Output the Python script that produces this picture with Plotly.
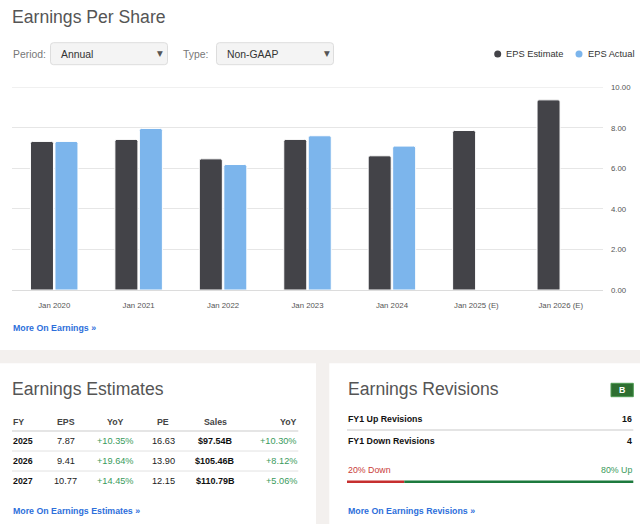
import plotly.graph_objects as go

# ---------------- data ----------------
categories = ["Jan 2020", "Jan 2021", "Jan 2022", "Jan 2023", "Jan 2024", "Jan 2025 (E)", "Jan 2026 (E)"]
eps_estimate = [7.33, 7.43, 6.47, 7.43, 6.62, 7.87, 9.38]
eps_actual = [7.33, 7.97, 6.19, 7.61, 7.10, None, None]
y_ticks = [0, 2, 4, 6, 8, 10]

table_header = ["FY", "EPS", "YoY", "PE", "Sales", "YoY"]
fy = ["2025", "2026", "2027"]
eps = ["7.87", "9.41", "10.77"]
eps_yoy = ["+10.35%", "+19.64%", "+14.45%"]
pe = ["16.63", "13.90", "12.15"]
sales = ["$97.54B", "$105.46B", "$110.79B"]
sales_yoy = ["+10.30%", "+8.12%", "+5.06%"]

up_revisions = 16
down_revisions = 4
revision_grade = "B"

# ---------------- helpers ----------------
W, H = 640, 524
FONT = "Liberation Sans, Arial, Helvetica, sans-serif"
C_EST = "#434348"
C_ACT = "#7cb5ec"
C_LINK = "#2d6fdb"
C_GREEN = "#3a9a5c"
C_RED = "#c9403a"
C_GRAY_BG = "#f3f0ee"
C_GRID = "#e6e6e6"


def px(x):
    return x / W


def py(y):
    return 1 - y / H


shapes = []
annotations = []


def rect(x0, y0, x1, y1, fill, line=None, lw=0, layer="below"):
    shapes.append(dict(type="rect", xref="paper", yref="paper",
                       x0=px(x0), x1=px(x1), y0=py(y1), y1=py(y0),
                       fillcolor=fill, line=dict(color=line or fill, width=lw), layer=layer))


def rrect(x0, y0, x1, y1, r, fill, line, lw=1):
    rx, ry = r / W, r / H
    X0, X1, Y0, Y1 = px(x0), px(x1), py(y1), py(y0)
    path = (f"M {X0+rx},{Y0} L {X1-rx},{Y0} Q {X1},{Y0} {X1},{Y0+ry} "
            f"L {X1},{Y1-ry} Q {X1},{Y1} {X1-rx},{Y1} L {X0+rx},{Y1} "
            f"Q {X0},{Y1} {X0},{Y1-ry} L {X0},{Y0+ry} Q {X0},{Y0} {X0+rx},{Y0} Z")
    shapes.append(dict(type="path", xref="paper", yref="paper", path=path,
                       fillcolor=fill, line=dict(color=line, width=lw), layer="above"))


def hline(x0, x1, y, color, width=1):
    shapes.append(dict(type="line", xref="paper", yref="paper",
                       x0=px(x0), x1=px(x1), y0=py(y), y1=py(y),
                       line=dict(color=color, width=width), layer="above"))


def text(x, y, s, size=8.8, color="#333", anchor="left", bold=False, family=FONT):
    if bold:
        s = f"<b>{s}</b>"
    annotations.append(dict(xref="paper", yref="paper", x=px(x), y=py(y), text=s,
                            showarrow=False, xanchor=anchor, yanchor="middle",
                            borderpad=0, font=dict(size=size, color=color, family=family)))


# ---------------- background panels ----------------
rect(0, 0, 640, 350, "white")
rect(0, 363.3, 316, 524, "white")
rect(329.3, 363.3, 640, 524, "white")

# top gridline of the chart (at the axis maximum)
shapes.append(dict(type="line", xref="x domain", yref="y", x0=0, x1=1,
                   y0=y_ticks[-1], y1=y_ticks[-1],
                   line=dict(color=C_GRID, width=1), layer="below"))

# ---------------- top header ----------------
text(11, 17, "Earnings Per Share", size=17.6, color="#555")
text(11.5, 54, "Period:", size=10.4, color="#777")
rrect(50.5, 42.7, 167.5, 64.7, 3, "#f4f4f4", "#dddddd")
text(60, 54, "Annual", size=10.4, color="#333")
text(160, 53.5, "▼", size=7.5, color="#555", anchor="center", family="DejaVu Sans")
text(181.5, 54, "Type:", size=10.4, color="#777")
rrect(216.5, 42.7, 333.5, 64.7, 3, "#f4f4f4", "#dddddd")
text(226, 54, "Non-GAAP", size=10.4, color="#333")
text(327, 53.5, "▼", size=7.5, color="#555", anchor="center", family="DejaVu Sans")

# legend
shapes.append(dict(type="circle", xref="paper", yref="paper",
                   x0=px(494.2), x1=px(501.2), y0=py(57.5), y1=py(50.5),
                   fillcolor=C_EST, line=dict(width=0), layer="above"))
text(504.5, 54, "EPS Estimate", size=9.3, color="#333")
shapes.append(dict(type="circle", xref="paper", yref="paper",
                   x0=px(575.5), x1=px(582.5), y0=py(57.5), y1=py(50.5),
                   fillcolor=C_ACT, line=dict(width=0), layer="above"))
text(587, 54, "EPS Actual", size=9.3, color="#333")

text(11.5, 328, "More On Earnings »", size=8.8, color=C_LINK, bold=True)

# ---------------- earnings estimates table ----------------
text(11, 389, "Earnings Estimates", size=17.6, color="#555")
col_x = [12, 65.7, 115, 163.3, 215, 298.3]
col_anchor = ["left", "center", "center", "center", "center", "right"]
for i, h in enumerate(table_header):
    text(col_x[i], 421.7, h, size=8.8, color="#444", anchor=col_anchor[i], bold=True)
hline(12, 298.3, 431, "#cccccc", 1.2)
row_y = [441, 460.7, 480.7]
for r in range(len(fy)):
    y = row_y[r]
    text(col_x[0], y, fy[r], size=8.8, color="#111", anchor="left", bold=True)
    text(col_x[1], y, eps[r], size=9.2, color="#222", anchor="center")
    text(col_x[2], y, eps_yoy[r], size=9.2, color=C_GREEN, anchor="center")
    text(col_x[3], y, pe[r], size=9.2, color="#222", anchor="center")
    text(col_x[4], y, sales[r], size=9.0, color="#111", anchor="center", bold=True)
    text(col_x[5], y, sales_yoy[r], size=9.2, color=C_GREEN, anchor="right")
hline(12, 298.3, 451, "#e2e2e2", 1)
hline(12, 298.3, 471, "#e2e2e2", 1)
text(11.5, 510.7, "More On Earnings Estimates »", size=8.8, color=C_LINK, bold=True)

# ---------------- earnings revisions ----------------
text(346.5, 389, "Earnings Revisions", size=17.6, color="#555")
rect(611, 383.3, 633.3, 396.7, "#2e6f31", "#4c9a50", 1, layer="above")
text(622.2, 390, revision_grade, size=8.8, color="white", anchor="center", bold=True)
text(347, 418.7, "FY1 Up Revisions", size=8.8, color="#111", bold=True)
text(633.3, 418.7, str(up_revisions), size=8.8, color="#111", anchor="right", bold=True)
hline(347, 633.3, 430, "#e4e4e4", 2)
text(347, 441.3, "FY1 Down Revisions", size=8.8, color="#111", bold=True)
text(633.3, 441.3, str(down_revisions), size=8.8, color="#111", anchor="right", bold=True)
total = up_revisions + down_revisions
down_pct = round(100 * down_revisions / total)
up_pct = round(100 * up_revisions / total)
text(347, 470, f"{down_pct}% Down", size=8.8, color=C_RED)
text(633.3, 470, f"{up_pct}% Up", size=8.8, color=C_GREEN, anchor="right")
split = 347 + (633.3 - 347) * down_revisions / total
hline(347, split, 481.7, "#c62f2f", 2.6)
hline(split, 633.3, 481.7, "#1d7a3e", 2.6)
text(347, 510.7, "More On Earnings Revisions »", size=8.8, color=C_LINK, bold=True)

# ---------------- chart ----------------
fig = go.Figure()
fig.add_trace(go.Bar(x=categories, y=eps_estimate, name="EPS Estimate",
                     marker=dict(color=C_EST, line=dict(color="white", width=1))))
fig.add_trace(go.Bar(x=categories, y=eps_actual, name="EPS Actual",
                     marker=dict(color=C_ACT, line=dict(color="white", width=1))))

fig.update_layout(
    template="none",
    width=W, height=H,
    margin=dict(l=0, r=0, t=0, b=0, pad=0, autoexpand=False),
    paper_bgcolor=C_GRAY_BG,
    plot_bgcolor="rgba(0,0,0,0)",
    barmode="group", bargap=0.42, bargroupgap=0.06, barcornerradius=2,
    showlegend=False,
    font=dict(family=FONT, color="#666"),
    shapes=shapes,
    annotations=annotations,
    xaxis=dict(domain=[px(12), px(603)], type="category", showgrid=False,
               ticks="", showline=False, zeroline=False, automargin=False,
               tickfont=dict(size=7.8, color="#555"), ticklabelstandoff=9,
               fixedrange=True),
    yaxis=dict(domain=[py(290), py(87.3)], range=[0, 10], side="right",
               tickvals=y_ticks, tickformat=".2f", automargin=False,
               showgrid=True, gridcolor=C_GRID, gridwidth=1,
               zeroline=True, zerolinecolor="#dcdcdc", zerolinewidth=1,
               showline=False, ticks="",
               tickfont=dict(size=7.8, color="#555"), ticklabelstandoff=7,
               fixedrange=True),
)

fig.write_html("out.html", post_script="document.body.style.margin='0';",
               config={"displayModeBar": False})
